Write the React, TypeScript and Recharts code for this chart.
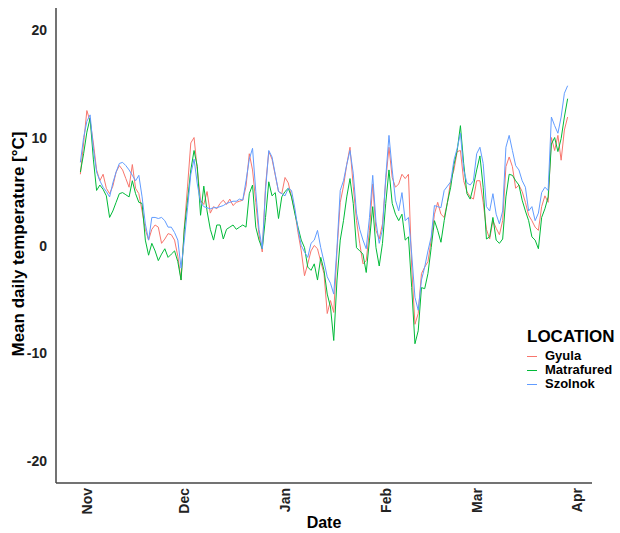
import { LineChart, Line, XAxis, YAxis } from 'recharts';

// daily means, first value is Oct 30 (day -2 relative to Nov 1)
const FIRST_DAY = -2;

const gyula = [
    6.6, 9.5, 12.5, 11.5, 9.5, 7.0, 6.0, 6.6, 5.3, 4.8,
    5.5, 6.8, 7.4, 7.0, 6.2, 5.4, 7.5, 5.3, 4.8, 3.2,
    1.5, 0.5, 1.5, 1.9, 1.7, 0.2, 0.6, 1.1, 1.0, 0.5,
    -1.0, -3.2, 1.7, 5.5, 9.5, 10.0, 7.0, 4.2, 3.8, 5.0,
    3.0, 3.6, 3.4, 3.9, 4.2, 3.8, 4.3, 3.7, 4.0, 4.1,
    4.2, 5.5, 8.5, 7.0, 4.0, 1.0, -0.6, 5.5, 8.7, 8.0,
    6.5, 5.0, 4.8, 6.3, 5.8, 4.5, 3.2, 1.2, -0.5, -2.8,
    -1.7, -0.5, 0.0, -0.3, -1.5, -2.6, -6.3, -5.1, -6.2, -0.5,
    4.0, 5.5, 7.5, 9.1, 5.5, 2.3, 0.2, -1.7, -1.4, 1.4,
    5.7, 1.4, 0.6, 2.0, 6.0, 9.1, 6.3, 5.4, 5.7, 6.6,
    6.2, 6.6, -2.0, -7.3, -6.3, -2.6, -2.0, -1.5, 0.5, 2.9,
    4.0, 2.9, 2.6, 4.0, 6.0, 7.0, 8.7, 8.8, 6.0, 5.0,
    4.5, 4.3, 6.0, 6.0, 4.0, 1.5, 0.6, 2.3, 1.6, 1.0,
    2.3, 7.3, 8.2, 7.3, 5.3, 5.6, 5.0, 4.0, 2.8, 2.3,
    1.7, 1.4, 3.6, 4.6, 4.0, 10.0, 8.8, 10.2, 7.9, 10.7,
    11.9,
];

const matrafured = [
    6.8, 8.5, 10.5, 11.8, 8.0, 5.1, 5.6, 5.2, 4.6, 2.6,
    3.2, 4.0, 4.8, 4.9, 4.7, 4.5, 6.0, 4.8, 4.0, 3.9,
    0.5, -0.9, 0.2, -0.5, -1.4, -0.8, -0.3, -1.1, -0.8, -0.5,
    -1.5, -3.2, 1.5, 4.2, 7.0, 8.8, 7.3, 2.8, 5.5, 3.2,
    1.5, 0.5, 1.9, 1.9, 0.6, 1.5, 1.7, 1.9, 1.5, 1.7,
    1.9, 1.7, 4.8, 5.6, 1.7, 0.5, -0.3, 2.6, 5.9, 4.6,
    4.9, 2.5, 4.5, 5.0, 5.3, 4.5, 3.0, 1.7, 0.5, -0.2,
    -2.0, -2.3, -1.7, -3.2, -1.1, -2.3, -4.5, -5.7, -8.8, -3.2,
    0.5, 2.3, 4.5, 6.2, 3.9, -0.2, -0.5, -0.8, -2.5, 0.5,
    3.6, -0.2, -1.9, 0.2, 3.9, 7.0, 3.9, 2.9, 2.3, 2.9,
    0.5, 0.8, -3.9, -9.1, -7.9, -3.9, -4.0, -2.6, -0.2, 2.3,
    1.4, 0.3, 2.3, 4.0, 5.4, 7.5, 8.8, 11.1, 7.6, 4.8,
    4.3, 5.5, 7.0, 8.3, 5.4, 0.6, 0.8, 2.6, 0.5, 0.2,
    0.6, 4.5, 6.6, 6.5, 6.0, 5.6, 4.2, 3.2, 2.3, 0.8,
    0.5, -0.3, 2.6, 3.4, 4.5, 9.4, 10.0, 8.7, 9.9, 11.9,
    13.6,
];

const szolnok = [
    7.7, 10.0, 11.5, 12.1, 9.0, 6.8, 6.0, 5.4, 5.0, 4.5,
    5.8, 6.8, 7.6, 7.7, 7.4, 7.0, 6.5, 6.0, 6.5, 4.5,
    2.0, 0.5, 2.6, 2.6, 2.5, 2.6, 2.3, 1.7, 1.7, 1.2,
    0.5, -2.1, 0.5, 3.5, 6.6, 8.0, 5.7, 4.0, 3.6, 3.5,
    3.4, 3.5, 3.5, 3.6, 3.7, 3.9, 4.0, 4.1, 4.1, 4.3,
    4.2, 6.0, 8.0, 9.0, 5.0, 1.5, -0.3, 5.1, 8.8, 8.2,
    6.6, 5.0, 4.8, 4.6, 5.3, 5.1, 3.5, 1.5, 0.0, -0.6,
    -1.1, 0.2, 0.5, 1.4, -0.2, -1.5, -2.9, -3.5, -4.5, -0.2,
    5.1, 6.0, 7.5, 8.8, 6.7, 3.0, 1.5, 0.5, -0.3, 2.6,
    6.5, 2.2, 0.2, 1.5, 6.3, 10.2, 7.0, 4.2, 3.2, 4.9,
    2.3, 2.6, -0.8, -4.8, -6.0, -3.2, -2.0, -0.5, 0.8, 3.7,
    3.6, 3.5, 5.1, 5.5, 5.9, 7.9, 9.0, 10.4, 7.0, 5.8,
    5.6, 6.0, 8.5, 9.1, 7.6, 3.6, 3.2, 4.8, 2.9, 2.0,
    3.2, 9.1, 10.2, 8.8, 7.4, 7.0, 6.0, 5.4, 3.2, 3.6,
    2.3, 3.0, 4.9, 5.4, 5.1, 11.9, 11.1, 10.4, 11.9, 14.1,
    14.8,
];

const monthLabels = ['Nov', 'Dec', 'Jan', 'Feb', 'Mar', 'Apr'];
const monthDays = [0, 30, 61, 92, 120, 151];
const yTicks = [-20, -10, 0, 10, 20];

const series = [
    { key: 'gyula', name: 'Gyula', color: '#F8766D' },
    { key: 'matrafured', name: 'Matrafured', color: '#00BA38' },
    { key: 'szolnok', name: 'Szolnok', color: '#619CFF' },
];

const data = gyula.map((g, i) => ({
    day: FIRST_DAY + i,
    gyula: g,
    matrafured: matrafured[i],
    szolnok: szolnok[i],
}));

const FONT = '"Liberation Sans", Arial, sans-serif';

function YTick({ x, y, payload }: any) {
    return (
        <text x={x} y={y} dy={5} textAnchor="end" fontFamily={FONT} fontWeight="bold" fontSize={14} fill="#222">
            {payload.value}
        </text>
    );
}

function XTick({ x, y, payload }: any) {
    const label = monthLabels[monthDays.indexOf(payload.value)];
    return (
        <text
            x={x}
            y={y}
            transform={`rotate(-90, ${x}, ${y})`}
            dy={5}
            textAnchor="end"
            fontFamily={FONT}
            fontWeight="bold"
            fontSize={14}
            fill="#222"
        >
            {label}
        </text>
    );
}

export default function App() {
    return (
        <div style={{ position: 'absolute', left: 0, top: 0, width: 620, height: 533, background: '#fff' }}>
            <LineChart width={620} height={533} data={data} margin={{ top: 8, right: 28, bottom: 20, left: 0 }}>
                <XAxis
                    dataKey="day"
                    type="number"
                    domain={[-9.5, 155.5]}
                    ticks={monthDays}
                    tick={<XTick />}
                    tickLine={false}
                    tickSize={0}
                    tickMargin={5}
                    height={30}
                    stroke="#444"
                    strokeWidth={1.5}
                    allowDataOverflow
                />
                <YAxis
                    type="number"
                    domain={[-22, 22]}
                    ticks={yTicks}
                    tick={<YTick />}
                    tickLine={false}
                    tickSize={0}
                    tickMargin={9}
                    width={56}
                    stroke="#444"
                    strokeWidth={1.5}
                    allowDataOverflow
                />
                {series.map((s) => (
                    <Line
                        key={s.key}
                        dataKey={s.key}
                        name={s.name}
                        stroke={s.color}
                        strokeWidth={1}
                        dot={false}
                        type="linear"
                        isAnimationActive={false}
                    />
                ))}
                <text
                    x={18}
                    y={244}
                    transform="rotate(-90, 18, 244)"
                    textAnchor="middle"
                    dominantBaseline="central"
                    fontFamily={FONT}
                    fontWeight="bold"
                    fontSize={17}
                    fill="#000"
                >
                    Mean daily temperature [°C]
                </text>
                <text x={324} y={528} textAnchor="middle" fontFamily={FONT} fontWeight="bold" fontSize={16} fill="#000">
                    Date
                </text>
            </LineChart>
            <div style={{ position: 'absolute', left: 527, top: 327, fontFamily: FONT, fontWeight: 'bold', color: '#000' }}>
                <div style={{ fontSize: 17, lineHeight: '20px', marginBottom: 2 }}>LOCATION</div>
                {series.map((s) => (
                    <div key={s.key} style={{ display: 'flex', alignItems: 'center', fontSize: 13, lineHeight: '14px' }}>
                        <span style={{ display: 'inline-block', width: 10, height: 1, background: s.color, marginRight: 8 }} />
                        {s.name}
                    </div>
                ))}
            </div>
        </div>
    );
}
